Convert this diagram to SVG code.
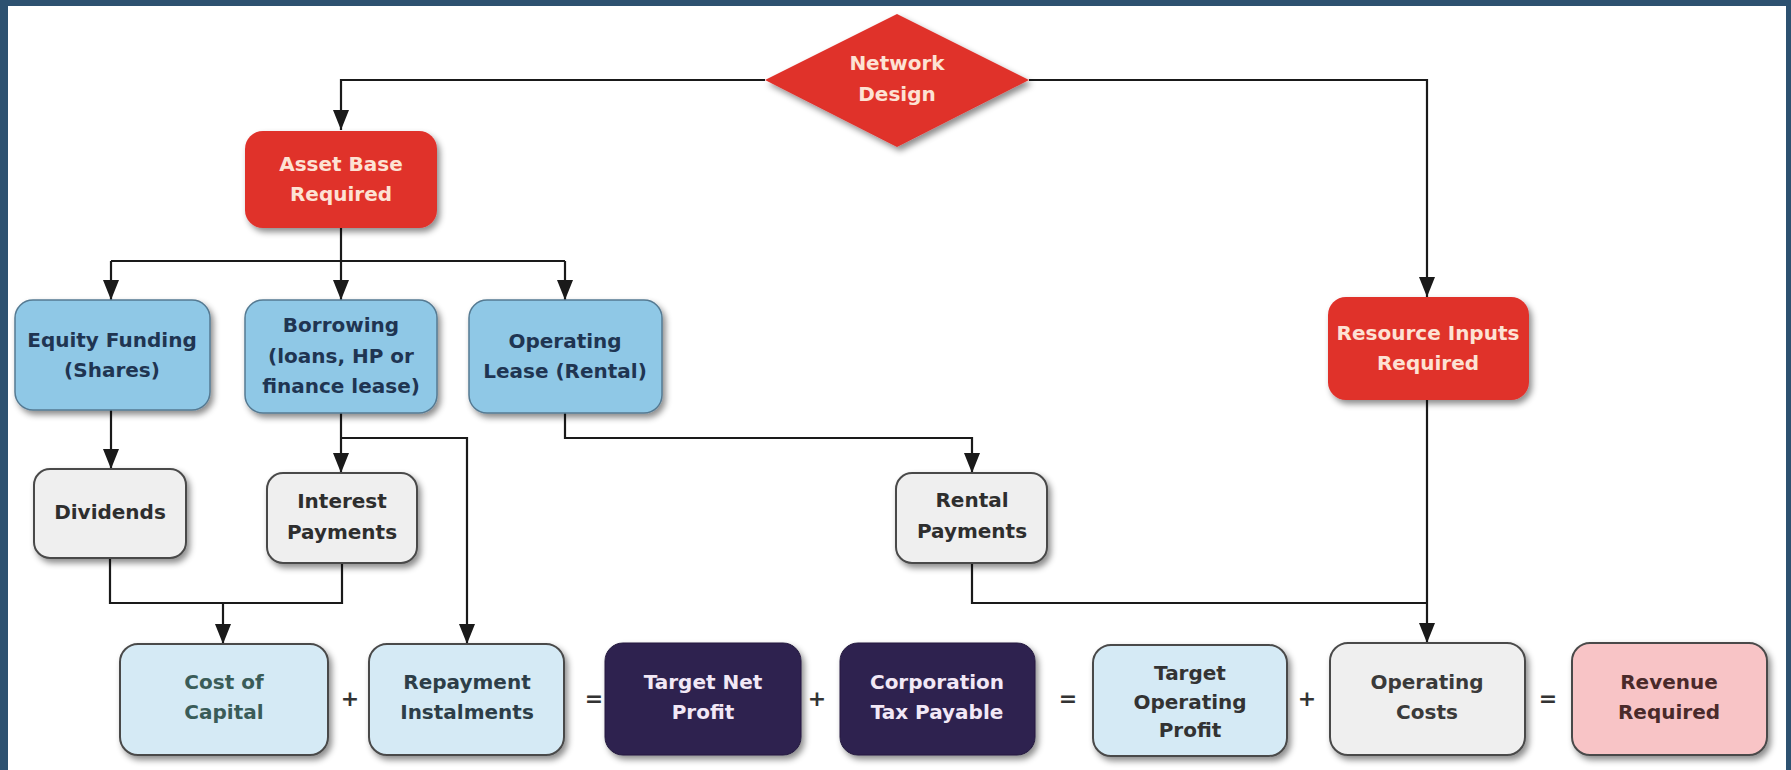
<svg xmlns="http://www.w3.org/2000/svg" width="1791" height="770" viewBox="0 0 1791 770">
<defs>
<filter id="sh" x="-10%" y="-10%" width="130%" height="140%">
<feDropShadow dx="3" dy="4" stdDeviation="3" flood-color="#000" flood-opacity="0.45"/>
</filter>
<marker id="ah" viewBox="0 0 20 16" refX="20" refY="8" markerWidth="20" markerHeight="16" markerUnits="userSpaceOnUse" orient="auto">
<path d="M0,0 L20,8 L0,16 z" fill="#1a1a1a"/>
</marker>
</defs>
<style>
text{font-family:"DejaVu Sans","Liberation Sans",sans-serif;font-weight:bold;font-size:20px;text-anchor:middle;dominant-baseline:central}
.red{fill:#e0302c;filter:url(#sh)}
.redt{fill:#fde2d4}
.blue{fill:#8fc8e6;stroke:#557a92;stroke-width:1.5;filter:url(#sh)}
.bluet{fill:#1f3552}
.gray{fill:#efefef;stroke:#4a4a4a;stroke-width:2;filter:url(#sh)}
.grayt{fill:#2e2e2e}
.lb{fill:#d5eaf5;stroke:#4a4a4a;stroke-width:2;filter:url(#sh)}
.pur{fill:#2f2250;stroke:#241a3e;stroke-width:1;filter:url(#sh)}
.purt{fill:#f2e8f6}
.pink{fill:#f8c4c6;stroke:#4a4a4a;stroke-width:2;filter:url(#sh)}
.op{fill:#333;font-size:22px}
.conn path{fill:none;stroke:#1a1a1a;stroke-width:2.2}
</style>
<rect x="0" y="0" width="1791" height="770" fill="#2d5170"/>
<rect x="8" y="6" width="1778" height="764" fill="#ffffff"/>

<g id="connectors" class="conn">
<path d="M765,80 H341 V130" marker-end="url(#ah)"/>
<path d="M1029,80 H1427 V297" marker-end="url(#ah)"/>
<path d="M341,228 V300" marker-end="url(#ah)"/>
<path d="M111,261 H565"/>
<path d="M111,261 V300" marker-end="url(#ah)"/>
<path d="M565,261 V300" marker-end="url(#ah)"/>
<path d="M111,410 V469" marker-end="url(#ah)"/>
<path d="M341,413 V473" marker-end="url(#ah)"/>
<path d="M341,438 H467 V644" marker-end="url(#ah)"/>
<path d="M565,413 V438 H972 V473" marker-end="url(#ah)"/>
<path d="M110,558 V603 H342 V563"/>
<path d="M223,603 V644" marker-end="url(#ah)"/>
<path d="M972,563 V603 H1427"/>
<path d="M1427,400 V643" marker-end="url(#ah)"/>
</g>

<g id="network">
<polygon points="897,14 1029,80 897,147 765,80" class="red"/>
<text x="897" y="63" class="redt">Network</text>
<text x="897" y="94" class="redt">Design</text>
</g>
<g id="asset">
<rect x="245" y="131" width="192" height="97" rx="18" class="red"/>
<text x="341" y="164" class="redt">Asset Base</text>
<text x="341" y="194" class="redt">Required</text>
</g>
<g id="resource">
<rect x="1328" y="297" width="201" height="103" rx="18" class="red"/>
<text x="1428" y="333" class="redt">Resource Inputs</text>
<text x="1428" y="363" class="redt">Required</text>
</g>
<g id="equity">
<rect x="15" y="300" width="195" height="110" rx="18" class="blue"/>
<text x="112" y="340" class="bluet">Equity Funding</text>
<text x="112" y="370" class="bluet">(Shares)</text>
</g>
<g id="borrowing">
<rect x="245" y="300" width="192" height="113" rx="18" class="blue"/>
<text x="341" y="325" class="bluet">Borrowing</text>
<text x="341" y="356" class="bluet">(loans, HP or</text>
<text x="341" y="386" class="bluet">finance lease)</text>
</g>
<g id="oplease">
<rect x="469" y="300" width="193" height="113" rx="18" class="blue"/>
<text x="565" y="341" class="bluet">Operating</text>
<text x="565" y="371" class="bluet">Lease (Rental)</text>
</g>
<g id="dividends">
<rect x="34" y="469" width="152" height="89" rx="16" class="gray"/>
<text x="110" y="512" class="grayt">Dividends</text>
</g>
<g id="interest">
<rect x="267" y="473" width="150" height="90" rx="16" class="gray"/>
<text x="342" y="501" class="grayt">Interest</text>
<text x="342" y="532" class="grayt">Payments</text>
</g>
<g id="rental">
<rect x="896" y="473" width="151" height="90" rx="16" class="gray"/>
<text x="972" y="500" class="grayt">Rental</text>
<text x="972" y="531" class="grayt">Payments</text>
</g>
<g id="costcap">
<rect x="120" y="644" width="208" height="111" rx="18" class="lb"/>
<text x="224" y="682" fill="#3a5c58">Cost of</text>
<text x="224" y="712" fill="#3a5c58">Capital</text>
</g>
<g id="repay">
<rect x="369" y="644" width="195" height="111" rx="18" class="lb"/>
<text x="467" y="682" fill="#2d3e48">Repayment</text>
<text x="467" y="712" fill="#2d3e48">Instalments</text>
</g>
<g id="tnp">
<rect x="605" y="643" width="196" height="112" rx="18" class="pur"/>
<text x="703" y="682" class="purt">Target Net</text>
<text x="703" y="712" class="purt">Profit</text>
</g>
<g id="corp">
<rect x="840" y="643" width="195" height="112" rx="18" class="pur"/>
<text x="937" y="682" class="purt">Corporation</text>
<text x="937" y="712" class="purt">Tax Payable</text>
</g>
<g id="top">
<rect x="1093" y="645" width="194" height="111" rx="18" class="lb"/>
<text x="1190" y="673" fill="#333">Target</text>
<text x="1190" y="702" fill="#333">Operating</text>
<text x="1190" y="730" fill="#333">Profit</text>
</g>
<g id="opcost">
<rect x="1330" y="643" width="195" height="112" rx="18" class="gray"/>
<text x="1427" y="682" fill="#3a3a3a">Operating</text>
<text x="1427" y="712" fill="#3a3a3a">Costs</text>
</g>
<g id="revenue">
<rect x="1572" y="643" width="195" height="112" rx="18" class="pink"/>
<text x="1669" y="682" fill="#4a2a2a">Revenue</text>
<text x="1669" y="712" fill="#4a2a2a">Required</text>
</g>

<g id="operators">
<text x="350" y="698" class="op">+</text>
<text x="594" y="698" class="op">=</text>
<text x="817" y="698" class="op">+</text>
<text x="1068" y="698" class="op">=</text>
<text x="1307" y="698" class="op">+</text>
<text x="1548" y="698" class="op">=</text>
</g>
</svg>
